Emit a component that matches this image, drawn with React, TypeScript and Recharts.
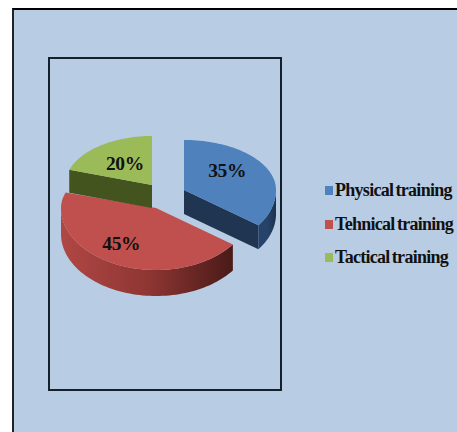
import React from "react";
import { PieChart, Pie, Legend } from "recharts";

const categories = ["Physical training", "Tehnical training", "Tactical training"];
const shares = [35, 45, 20];
const topColors = ["#4f81bd", "#c0504d", "#9bbb59"];
const faceColors = ["#1f3552", "#7a2e2b", "#44541f"];
const wallStops = [
  ["#27436a", "#1d324e"],
  ["#b04744", "#4a1a18"],
  ["#4a5b22", "#3d4c1c"],
];

// Each slice is pulled away from the pie centre and drawn on a tilted ellipse;
// the front half of the ellipse is deeper because it is nearer the viewer.
const CENTER_X = 153;
const CENTER_Y = 190;
const sliceLayouts = [
  { dx: 31, dy: 0, rx: 92, back: 50, front: 60, depth: 24, labelX: -2, labelY: -7 },
  { dx: 3, dy: 18, rx: 95, back: 50, front: 62, depth: 26, labelX: -11, labelY: 5 },
  { dx: -1, dy: -5, rx: 87, back: 49, front: 62, depth: 23, labelX: 1, labelY: 0 },
];

const chartData = categories.map((name, i) => ({
  name,
  value: shares[i],
  fill: topColors[i],
}));

const rad = (deg: number) => (deg * Math.PI) / 180;

// Point on the slice rim; angles run clockwise from twelve o'clock.
const rim = (l: (typeof sliceLayouts)[number], ox: number, oy: number, cw: number) => {
  const c = Math.cos(rad(cw));
  return {
    x: ox + l.rx * Math.sin(rad(cw)),
    y: oy - c * (c > 0 ? l.back : l.front),
  };
};

const arcPoints = (l: (typeof sliceLayouts)[number], ox: number, oy: number, from: number, to: number) => {
  const steps = Math.max(2, Math.ceil(Math.abs(to - from) / 2));
  const pts = [];
  for (let i = 0; i <= steps; i++) pts.push(rim(l, ox, oy, from + ((to - from) * i) / steps));
  return pts;
};

const toPath = (pts: { x: number; y: number }[]) =>
  pts.map((p, i) => `${i ? "L" : "M"}${p.x.toFixed(2)} ${p.y.toFixed(2)}`).join(" ") + " Z";

const Slice3D = (props: any) => {
  const { cx, cy, startAngle, endAngle, index } = props;
  const l = sliceLayouts[index];
  const ox = cx + l.dx;
  const oy = cy + l.dy;
  const from = 90 - startAngle;
  const to = 90 - endAngle;
  const apex = { x: ox, y: oy };
  const drop = (p: { x: number; y: number }) => ({ x: p.x, y: p.y + l.depth });

  // Only the part of the rim between 90 and 270 degrees faces the viewer.
  const wallFrom = Math.max(from, 90);
  const wallTo = Math.min(to, 270);
  const hasWall = wallTo > wallFrom;
  const wallTop = hasWall ? arcPoints(l, ox, oy, wallFrom, wallTo) : [];
  const wallPath = hasWall ? toPath([...wallTop, ...wallTop.slice().reverse().map(drop)]) : "";

  const startVisible = Math.sin(rad(from)) < -0.01;
  const endVisible = Math.sin(rad(to)) > 0.01;
  const startPt = rim(l, ox, oy, from);
  const endPt = rim(l, ox, oy, to);
  const gradientId = `slice-wall-${index}`;

  return (
    <g>
      <defs>
        <linearGradient id={gradientId} x1="1" y1="0" x2="0" y2="0">
          <stop offset="0" stopColor={wallStops[index][1]} />
          <stop offset="0.5" stopColor={index === 1 ? "#8f3633" : wallStops[index][0]} />
          <stop offset="1" stopColor={wallStops[index][0]} />
        </linearGradient>
      </defs>
      {startVisible && (
        <path d={toPath([apex, startPt, drop(startPt), drop(apex)])} fill={faceColors[index]} />
      )}
      {endVisible && (
        <path d={toPath([apex, endPt, drop(endPt), drop(apex)])} fill={faceColors[index]} />
      )}
      {hasWall && <path d={wallPath} fill={`url(#${gradientId})`} />}
      <path d={toPath([apex, ...arcPoints(l, ox, oy, from, to)])} fill={topColors[index]} />
    </g>
  );
};

const SliceLabel = (props: any) => {
  const { cx, cy, midAngle, index, value } = props;
  const l = sliceLayouts[index];
  const p = rim(l, cx + l.dx, cy + l.dy, 90 - midAngle);
  const ox = cx + l.dx;
  const oy = cy + l.dy;
  return (
    <text
      x={ox + (p.x - ox) * 0.55 + l.labelX}
      y={oy + (p.y - oy) * 0.55 + l.labelY}
      textAnchor="middle"
      dominantBaseline="central"
      fontFamily="'Liberation Serif', serif"
      fontWeight="bold"
      fontSize={19.5}
      letterSpacing={-0.4}
      fill="#111"
    >
      {value}%
    </text>
  );
};

const LegendList = ({ payload }: any) => (
  <div>
    {(payload ?? []).map((entry: any) => (
      <div
        key={entry.value}
        style={{ display: "flex", alignItems: "center", height: 33.5, whiteSpace: "nowrap" }}
      >
        <span
          style={{ width: 8, height: 9, background: entry.color, marginRight: 2, flex: "none" }}
        />
        <span
          style={{
            fontFamily: "'Liberation Serif', serif",
            fontWeight: "bold",
            fontSize: 18,
            letterSpacing: -0.72,
            wordSpacing: -1.5,
            color: "#111",
          }}
        >
          {entry.value}
        </span>
      </div>
    ))}
  </div>
);

export default function App() {
  return (
    <div
      style={{
        position: "absolute",
        left: 0,
        top: 0,
        width: 457,
        height: 432,
        overflow: "hidden",
        background: "#fff",
      }}
    >
      <div
        style={{
          position: "absolute",
          left: 12,
          top: 8,
          width: 460,
          height: 440,
          background: "#b8cce4",
          borderLeft: "2px solid #222",
          borderTop: "2px solid #000",
        }}
      />
      <div
        style={{
          position: "absolute",
          left: 48,
          top: 57,
          width: 230,
          height: 330,
          border: "2px solid #16202c",
        }}
      />
      <PieChart
        width={457}
        height={432}
        margin={{ top: 0, right: 0, bottom: 0, left: 0 }}
        style={{ position: "absolute", left: 0, top: 0 }}
      >
        <Pie
          data={chartData}
          dataKey="value"
          nameKey="name"
          cx={CENTER_X}
          cy={CENTER_Y}
          outerRadius={90}
          startAngle={90}
          endAngle={-270}
          stroke="none"
          isAnimationActive={false}
          shape={Slice3D}
          label={SliceLabel}
          labelLine={false}
        />
        <Legend
          layout="vertical"
          content={LegendList}
          itemSorter={null}
          wrapperStyle={{ position: "absolute", left: 325, top: 174, width: 132 }}
        />
      </PieChart>
    </div>
  );
}
